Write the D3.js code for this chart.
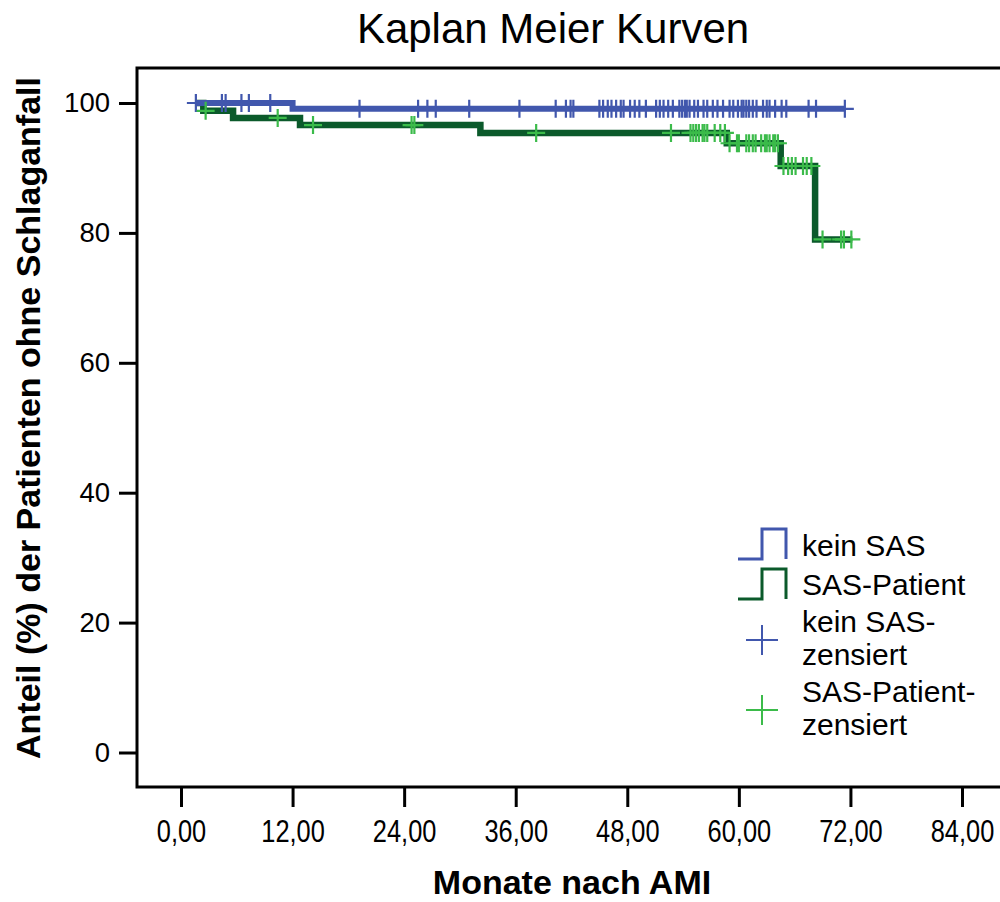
<!DOCTYPE html>
<html>
<head>
<meta charset="utf-8">
<script src="https://cdn.jsdelivr.net/npm/d3@7"></script>
<style>
  body { margin: 0; background: #fff; }
  svg { display: block; font-family: "Liberation Sans", Arial, sans-serif; }
</style>
</head>
<body>
<svg width="1000" height="902"></svg>
<script>
// Kaplan-Meier Stufen: [Monat, Anteil %]
const keinSasSteps = [[1.6, 100], [12.0, 99.1], [71.4, 99.1]];
const sasSteps = [[1.6, 100], [2.4, 98.8], [5.6, 97.7], [12.8, 96.6], [32.2, 95.4],
	[58.7, 93.8], [64.5, 90.3], [68.2, 79.0], [72.2, 79.0]];

// zensierte Faelle (Monate)
const keinSasCensored = [1.6, 4.4, 4.8, 6.5, 7.3, 9.6, 19.2, 25.5, 26.5, 27.4, 31.0, 36.4,
	40.3, 41.4, 41.9, 42.2, 45.0, 45.4, 45.9, 46.3, 46.8, 47.3, 47.6, 48.3, 48.8, 49.3,
	50.0, 51.1, 51.5, 51.9, 52.4, 52.9, 53.6, 53.9, 54.2, 54.4, 54.7, 55.2, 55.6, 56.2,
	56.6, 57.2, 57.7, 58.3, 59.0, 59.4, 59.9, 60.3, 60.5, 60.8, 61.1, 61.5, 61.9, 62.6,
	63.0, 63.3, 63.9, 64.6, 65.1, 67.5, 68.3, 71.4];
const sasCensored = [2.65, 10.4, 14.2, 24.8, 25.1, 38.2, 52.7, 54.8, 55.1, 55.4, 55.7,
	56.1, 56.3, 56.6, 57.4, 58.0, 58.5, 59.0, 59.8, 60.0, 60.8, 61.1, 61.5, 61.8, 62.4,
	62.8, 63.0, 63.3, 63.7, 63.9, 64.2, 64.8, 65.3, 65.7, 66.1, 66.9, 67.3, 67.8,
	69.0, 71.0, 71.3, 72.1];

const xTicks = [0, 12, 24, 36, 48, 60, 72, 84];
const yTicks = [0, 20, 40, 60, 80, 100];

const blau = "#4157ad";
const dunkelgruen = "#0b5a2b";
const hellgruen = "#3bbb4a";

const svg = d3.select("svg");
const margin = { left: 137, top: 68, bottom: 787 };

const x = d3.scaleLinear([0, 84], [181, 962]);
const y = d3.scaleLinear([0, 100], [752.5, 103]);

const de = d3.formatLocale({ decimal: ",", thousands: ".", grouping: [3], currency: ["", "€"] });
const fmtX = de.format(".2f");

// Rahmen
svg.append("path")
	.attr("fill", "none")
	.attr("stroke", "#000")
	.attr("stroke-width", 3)
	.attr("d", `M1010,${margin.top}H${margin.left}V${margin.bottom}H1010`);

// Achsen
const gX = svg.append("g")
	.attr("transform", `translate(0,${margin.bottom})`)
	.call(d3.axisBottom(x).tickValues(xTicks).tickFormat(fmtX).tickSize(20).tickPadding(13));
gX.select(".domain").remove();
gX.selectAll(".tick line").attr("stroke-width", 3);
gX.selectAll(".tick text")
	.attr("font-size", 31)
	.attr("font-family", "Liberation Sans, Arial, sans-serif")
	.attr("fill", "#000")
	.style("transform-box", "fill-box")
	.style("transform-origin", "center")
	.style("transform", "scaleX(0.82)");

const gY = svg.append("g")
	.attr("transform", `translate(${margin.left},0)`)
	.call(d3.axisLeft(y).tickValues(yTicks).tickSize(18).tickPadding(9));
gY.select(".domain").remove();
gY.selectAll(".tick line").attr("stroke-width", 3);
gY.selectAll(".tick text")
	.attr("font-size", 27.5)
	.attr("font-family", "Liberation Sans, Arial, sans-serif")
	.attr("fill", "#000");

// Titel
svg.append("text")
	.attr("x", 553).attr("y", 43)
	.attr("text-anchor", "middle")
	.attr("font-size", 42)
	.text("Kaplan Meier Kurven");

svg.append("text")
	.attr("x", 572).attr("y", 894)
	.attr("text-anchor", "middle")
	.attr("font-size", 34)
	.attr("font-weight", "bold")
	.text("Monate nach AMI");

svg.append("text")
	.attr("transform", "translate(40,418) rotate(-90)")
	.attr("text-anchor", "middle")
	.attr("font-size", 34)
	.attr("font-weight", "bold")
	.text("Anteil (%) der Patienten ohne Schlaganfall");

// Kurven
const stufe = d3.line().curve(d3.curveStepAfter).x(d => x(d[0])).y(d => y(d[1]));

svg.append("path")
	.attr("fill", "none")
	.attr("stroke", dunkelgruen)
	.attr("stroke-width", 6.5)
	.attr("d", stufe(sasSteps));

svg.append("path")
	.attr("fill", "none")
	.attr("stroke", blau)
	.attr("stroke-width", 6)
	.attr("d", stufe(keinSasSteps));

// Wert einer Stufenkurve zu einem Zeitpunkt
function wertBei(steps, t) {
	let v = steps[0][1];
	for (const [tt, vv] of steps) if (tt <= t) v = vv;
	return v;
}

function kreuze(times, steps, color) {
	const r = 9;
	svg.append("g")
		.attr("stroke", color)
		.attr("stroke-width", 2.2)
		.selectAll("path")
		.data(times)
		.join("path")
		.attr("d", t => {
			const cx = x(t), cy = y(wertBei(steps, t));
			return `M${cx - r},${cy}H${cx + r}M${cx},${cy - r}V${cy + r}`;
		});
}

kreuze(keinSasCensored, keinSasSteps, blau);
kreuze(sasCensored, sasSteps, hellgruen);

// Legende
const legende = svg.append("g").attr("font-size", 30);

const stufenSymbol = (g, y0, color) => {
	g.append("path")
		.attr("fill", "none")
		.attr("stroke", color)
		.attr("stroke-width", 3)
		.attr("d", `M738,${y0 + 30}H762V${y0}H786V${y0 + 30}`);
};
stufenSymbol(legende, 529, blau);
stufenSymbol(legende, 569, dunkelgruen);

const kreuzSymbol = (g, cx, cy, color) => {
	g.append("path")
		.attr("stroke", color)
		.attr("stroke-width", 2)
		.attr("d", `M${cx - 16},${cy}H${cx + 16}M${cx},${cy - 15}V${cy + 15}`);
};
kreuzSymbol(legende, 762, 640, blau);
kreuzSymbol(legende, 762, 710, hellgruen);

const legendTexte = [
	["kein SAS", 556],
	["SAS-Patient", 595],
	["kein SAS-", 632],
	["zensiert", 665],
	["SAS-Patient-", 702],
	["zensiert", 735]
];
legende.selectAll("text")
	.data(legendTexte)
	.join("text")
	.attr("x", 802)
	.attr("y", d => d[1])
	.text(d => d[0]);
</script>
</body>
</html>
